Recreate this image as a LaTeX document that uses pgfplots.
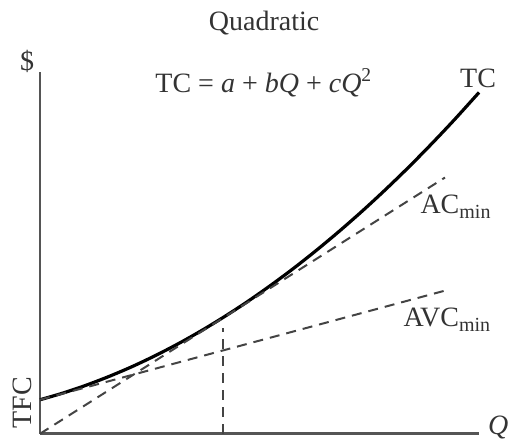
\documentclass[border=0pt]{standalone}
\usepackage{fontspec}
\setmainfont{Liberation Serif}
\usepackage{pgfplots}
\pgfplotsset{compat=1.18}
\definecolor{axgray}{HTML}{555555}
\definecolor{txt}{HTML}{333333}
\definecolor{dashc}{HTML}{444444}
\newcommand{\lbl}{\fontsize{14}{16}\selectfont}
\newcommand{\sub}[1]{\raisebox{-0.35ex}{\fontsize{10}{12}\selectfont #1}}
\begin{document}
\begin{tikzpicture}
\begin{axis}[
 scale only axis, width=219.5pt, height=181pt,
 xmin=0, xmax=9.54, ymin=0, ymax=7.87,
 axis lines=left, axis line style={-, axgray, line width=1.3pt},
 xtick=\empty, ytick=\empty,
 clip=false,
]
% TC = a + bQ + cQ^2
\addplot[black, line width=1.6pt, smooth] coordinates {
(0,0.739) (0.5,0.885) (1,1.054) (1.5,1.246) (2,1.459) (2.5,1.696) (3,1.955)
(3.5,2.237) (4,2.541) (4.5,2.867) (5,3.217) (5.5,3.588) (6,3.983) (6.5,4.400)
(7,4.839) (7.5,5.301) (8,5.785) (8.5,6.293) (9,6.822) (9.54,7.420)};
% AC_min ray
\addplot[dashc, line width=1pt, dash pattern=on 5pt off 3.5pt] coordinates {(0,0) (8.8,5.57)};
% AVC_min line
\addplot[dashc, line width=1pt, dash pattern=on 5pt off 3.5pt] coordinates {(0,0.739) (8.87,3.13)};
% vertical at Q*
\addplot[dashc, line width=1pt, dash pattern=on 5pt off 3.5pt] coordinates {(3.97,0) (3.97,2.30)};
\node[font=\lbl, text=txt] at (axis cs:4.87,8.93) {Quadratic};
\node[font=\lbl, text=txt] at (axis cs:-0.28,8.09) {\$};
\node[font=\lbl, text=txt, anchor=west, inner sep=0pt] at (axis cs:2.50,7.63) {TC = \textit{a} + \textit{bQ} + \textit{cQ}\textsuperscript{2}};
\node[font=\lbl, text=txt] at (axis cs:9.52,7.72) {TC};
\node[font=\lbl, text=txt, anchor=west, inner sep=0pt] at (axis cs:8.26,4.93) {AC\sub{min}};
\node[font=\lbl, text=txt, anchor=west, inner sep=0pt] at (axis cs:7.89,2.48) {AVC\sub{min}};
\node[font=\lbl, text=txt, rotate=90] at (axis cs:-0.39,0.67) {TFC};
\node[font=\lbl, text=txt] at (axis cs:9.96,0.13) {\textit{Q}};
\coordinate (ll) at (axis cs:-0.87,-0.174);
\coordinate (ur) at (axis cs:10.30,9.43);
\end{axis}
\pgfresetboundingbox
\path (ll) rectangle (ur);
\end{tikzpicture}
\end{document}
